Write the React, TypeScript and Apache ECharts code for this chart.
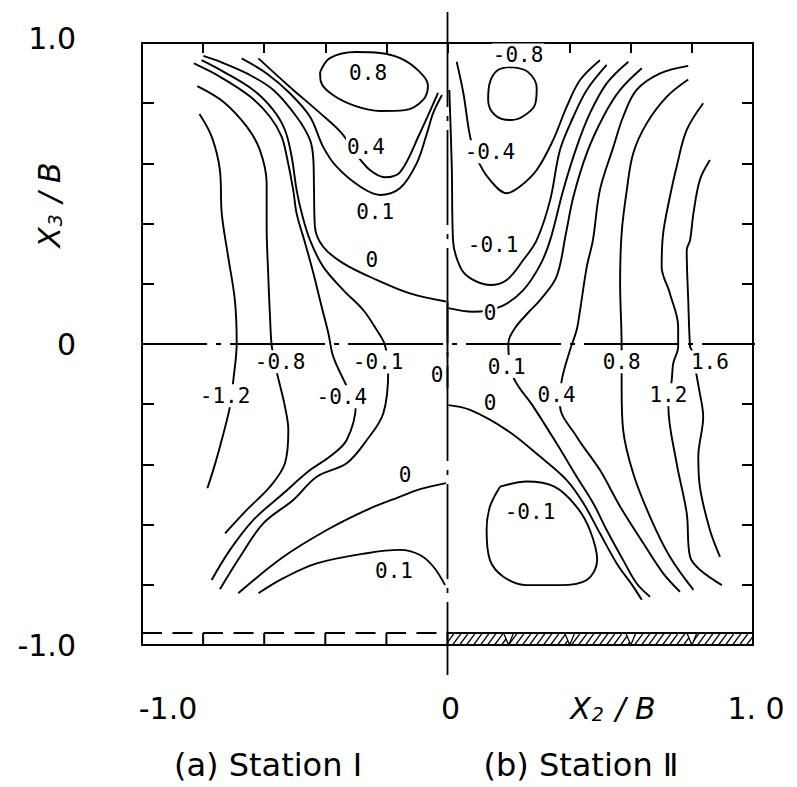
import React, { useEffect, useRef } from "react";
import * as echarts from "echarts";

type Pt = [number, number];

// ---------- Station I (x < 0) contour lines ----------
const s1Minus12: Pt[] = [[-0.812,0.764],[-0.772,0.689],[-0.745,0.578],[-0.739,0.434],[-0.718,0.290],[-0.696,0.146],[-0.690,0.003],[-0.701,-0.120],[-0.712,-0.208],[-0.745,-0.341],[-0.767,-0.419],[-0.786,-0.479]];
const s1Minus08: Pt[] = [[-0.819,0.857],[-0.734,0.805],[-0.657,0.722],[-0.614,0.644],[-0.592,0.534],[-0.592,0.390],[-0.587,0.235],[-0.581,0.091],[-0.575,-0.009],[-0.559,-0.092],[-0.532,-0.208],[-0.521,-0.286],[-0.532,-0.396],[-0.581,-0.474],[-0.657,-0.551],[-0.728,-0.629]];
const s1Minus04: Pt[] = [[-0.830,0.932],[-0.745,0.888],[-0.646,0.822],[-0.581,0.755],[-0.543,0.689],[-0.526,0.622],[-0.505,0.512],[-0.494,0.434],[-0.466,0.335],[-0.439,0.235],[-0.412,0.124],[-0.390,0.036],[-0.374,-0.042],[-0.330,-0.140],[-0.300,-0.200],[-0.330,-0.319],[-0.385,-0.374],[-0.450,-0.419],[-0.537,-0.496],[-0.636,-0.585],[-0.712,-0.684],[-0.772,-0.784]];
const s1Minus01: Pt[] = [[-0.805,0.943],[-0.734,0.905],[-0.636,0.844],[-0.570,0.777],[-0.532,0.711],[-0.510,0.622],[-0.494,0.512],[-0.477,0.434],[-0.450,0.345],[-0.407,0.257],[-0.341,0.179],[-0.276,0.113],[-0.232,0.047],[-0.205,-0.003],[-0.194,-0.086],[-0.210,-0.230],[-0.264,-0.319],[-0.330,-0.396],[-0.428,-0.441],[-0.505,-0.518],[-0.603,-0.596],[-0.679,-0.707],[-0.745,-0.815]];
const s1ZeroUpper: Pt[] = [[-0.799,0.957],[-0.745,0.938],[-0.657,0.899],[-0.570,0.844],[-0.494,0.755],[-0.450,0.678],[-0.439,0.611],[-0.437,0.512],[-0.434,0.390],[-0.407,0.323],[-0.341,0.268],[-0.232,0.213],[-0.123,0.168],[-0.005,0.141]];
const s1Plus01Upper: Pt[] = [[-0.674,0.949],[-0.592,0.899],[-0.516,0.833],[-0.450,0.755],[-0.407,0.655],[-0.363,0.589],[-0.286,0.523],[-0.221,0.495],[-0.155,0.518],[-0.101,0.600],[-0.067,0.701],[-0.047,0.767],[-0.018,0.827]];
const s1Plus04: Pt[] = [[-0.619,0.949],[-0.516,0.854],[-0.417,0.767],[-0.346,0.700],[-0.297,0.628],[-0.254,0.578],[-0.205,0.554],[-0.155,0.571],[-0.090,0.701],[-0.031,0.834]];
const s1Plus08: Pt[] = [[-0.417,0.904],[-0.385,0.950],[-0.300,0.970],[-0.221,0.967],[-0.155,0.950],[-0.097,0.910],[-0.064,0.860],[-0.080,0.811],[-0.139,0.777],[-0.221,0.774],[-0.303,0.791],[-0.375,0.827],[-0.414,0.870],[-0.417,0.904]];
const s1ZeroLower: Pt[] = [[-0.685,-0.828],[-0.537,-0.707],[-0.395,-0.618],[-0.264,-0.551],[-0.155,-0.507],[-0.090,-0.482],[-0.005,-0.462]];
const s1Plus01Lower: Pt[] = [[-0.619,-0.828],[-0.537,-0.778],[-0.428,-0.729],[-0.264,-0.695],[-0.155,-0.684],[-0.090,-0.701],[-0.046,-0.740],[-0.008,-0.801]];

// ---------- Station II (x > 0) contour lines ----------
const s2Minus08: Pt[] = [[0.210,0.920],[0.263,0.904],[0.292,0.850],[0.286,0.794],[0.244,0.754],[0.205,0.744],[0.155,0.761],[0.133,0.811],[0.139,0.870],[0.165,0.910],[0.210,0.920]];
const s2Minus04: Pt[] = [[0.030,0.938],[0.052,0.833],[0.074,0.689],[0.096,0.617],[0.139,0.545],[0.194,0.501],[0.237,0.523],[0.292,0.578],[0.346,0.678],[0.390,0.788],[0.434,0.877],[0.499,0.943]];
const s2Minus01Upper: Pt[] = [[0.006,0.844],[0.014,0.589],[0.018,0.345],[0.041,0.257],[0.074,0.219],[0.139,0.196],[0.194,0.213],[0.248,0.279],[0.292,0.345],[0.336,0.478],[0.368,0.644],[0.412,0.755],[0.456,0.844],[0.521,0.927]];
const s2ZeroUpper: Pt[] = [[0.003,0.119],[0.083,0.107],[0.178,0.126],[0.248,0.179],[0.303,0.262],[0.336,0.345],[0.379,0.512],[0.423,0.655],[0.466,0.766],[0.521,0.866],[0.592,0.938]];
const s2ZeroOnAxis: Pt[] = [[0, 0.14], [0, -0.147]];
const s2Plus01: Pt[] = [[0.636,0.916],[0.565,0.844],[0.510,0.755],[0.456,0.634],[0.412,0.489],[0.388,0.369],[0.357,0.224],[0.303,0.146],[0.263,0.103],[0.221,0.053],[0.199,0.002],[0.215,-0.109],[0.281,-0.208],[0.357,-0.330],[0.423,-0.441],[0.477,-0.529],[0.521,-0.618],[0.575,-0.718],[0.619,-0.795],[0.663,-0.840]];
const s2ZeroLower: Pt[] = [[0.003,-0.203],[0.074,-0.219],[0.194,-0.286],[0.303,-0.374],[0.390,-0.452],[0.445,-0.529],[0.499,-0.629],[0.554,-0.729],[0.608,-0.806],[0.636,-0.850]];
const s2Minus01Loop: Pt[] = [[0.172,-0.474],[0.259,-0.457],[0.350,-0.474],[0.422,-0.540],[0.466,-0.618],[0.490,-0.718],[0.456,-0.784],[0.368,-0.801],[0.259,-0.801],[0.183,-0.773],[0.139,-0.718],[0.128,-0.618],[0.139,-0.540],[0.172,-0.474]];
const s2Plus04: Pt[] = [[0.788,0.924],[0.696,0.899],[0.619,0.844],[0.575,0.755],[0.543,0.655],[0.499,0.512],[0.476,0.345],[0.456,0.257],[0.434,0.113],[0.423,0.047],[0.401,-0.020],[0.374,-0.120],[0.368,-0.203],[0.423,-0.308],[0.499,-0.419],[0.565,-0.540],[0.641,-0.662],[0.706,-0.762],[0.761,-0.823]];
const s2Plus08: Pt[] = [[0.788,0.879],[0.718,0.822],[0.652,0.733],[0.608,0.634],[0.587,0.512],[0.570,0.368],[0.565,0.202],[0.570,-0.009],[0.570,-0.153],[0.575,-0.286],[0.608,-0.430],[0.663,-0.574],[0.728,-0.707],[0.805,-0.817]];
const s2Plus12: Pt[] = [[0.837,0.800],[0.783,0.711],[0.750,0.589],[0.728,0.489],[0.706,0.368],[0.701,0.257],[0.728,0.168],[0.755,0.057],[0.755,-0.009],[0.739,-0.064],[0.734,-0.120],[0.723,-0.208],[0.750,-0.396],[0.783,-0.562],[0.794,-0.707],[0.827,-0.751],[0.898,-0.801]];
const s2Plus16: Pt[] = [[0.859,0.611],[0.826,0.545],[0.805,0.434],[0.794,0.345],[0.783,0.312],[0.788,0.146],[0.794,-0.009],[0.799,-0.020],[0.826,-0.164],[0.837,-0.242],[0.821,-0.374],[0.826,-0.474],[0.859,-0.618],[0.892,-0.707]];

const contourLines: Pt[][] = [
  s1Minus12, s1Minus08, s1Minus04, s1Minus01, s1ZeroUpper, s1Plus01Upper, s1Plus04, s1Plus08, s1ZeroLower, s1Plus01Lower,
  s2Minus08, s2Minus04, s2Minus01Upper, s2ZeroUpper, s2ZeroOnAxis, s2Plus01, s2ZeroLower, s2Minus01Loop, s2Plus04, s2Plus08, s2Plus12, s2Plus16,
];

// contour value labels: [text, x, y]
const contourLabels: [string, number, number][] = [
  ["-1.2", -0.728, -0.172], ["-0.8", -0.548, -0.059], ["-0.4", -0.346, -0.175], ["-0.1", -0.227, -0.060],
  ["0", -0.034, -0.103], ["0.8", -0.260, 0.900], ["0.4", -0.267, 0.654], ["0.1", -0.237, 0.438],
  ["0", -0.248, 0.279], ["0", -0.139, -0.435], ["0.1", -0.175, -0.754],
  ["-0.8", 0.231, 0.960], ["-0.4", 0.139, 0.639], ["-0.1", 0.149, 0.329], ["0", 0.139, 0.103],
  ["0.1", 0.194, -0.075], ["0", 0.139, -0.196], ["0.4", 0.357, -0.169], ["0.8", 0.570, -0.059],
  ["1.2", 0.723, -0.169], ["1.6", 0.859, -0.060], ["-0.1", 0.270, -0.557],
];

// reference (centre) lines
const centreLineH: Pt[] = [[-1.098, 0], [1.105, 0]];
const centreLineV: Pt[] = [[0, 1.103], [0, -1.1]];

// bottom wall strip
const stripTop = -0.96;
const stripBottom = -1.0;
const stripIMarks = [-0.8, -0.6, -0.4, -0.2];
const stripIIMarks = [0.2, 0.4, 0.6, 0.8];
const stripIRange: Pt = [-1, 0];
const stripIIRange: Pt = [0, 1];

const INK = "#000";
const near = (a: number, b: number) => Math.abs(a - b) < 1e-6;

export default function App() {
  const ref = useRef<HTMLDivElement>(null);
  useEffect(() => {
    if (!ref.current) return;
    const chart = echarts.init(ref.current, null, { renderer: "svg" });
    const lineSeries = contourLines.map((d) => ({
      type: "line",
      data: d,
      showSymbol: false,
      symbol: "none",
      smooth: 0.35,
      clip: false,
      silent: true,
      z: 3,
      lineStyle: { color: INK, width: 1.9 },
    }));
    const richText = {
      i: { fontFamily: "DejaVu Sans", fontStyle: "italic", fontSize: 30, fill: INK, color: INK },
      s: { fontFamily: "DejaVu Sans", fontStyle: "italic", fontSize: 19, fill: INK, color: INK, verticalAlign: "bottom", padding: [0, 2, 0, 1] },
    };
    const option: any = {
      animation: false,
      backgroundColor: "#fff",
      grid: { left: 142, top: 43, right: 44, bottom: 142, containLabel: false },
      xAxis: [
        {
          type: "value", position: "bottom", min: -1, max: 1, interval: 1,
          axisLine: { show: true, onZero: false, lineStyle: { color: INK, width: 2 } },
          axisTick: { show: false },
          splitLine: { show: false },
          axisLabel: {
            show: true, margin: 48, fontFamily: "DejaVu Sans", fontSize: 30, color: INK,
            showMinLabel: true, showMaxLabel: true,
            formatter: (v: number) => (near(v, -1) ? "{a|-1.0}" : near(v, 0) ? "{b|0}" : near(v, 1) ? "{c|1. 0}" : ""),
            rich: {
              a: { fontFamily: "DejaVu Sans", fontSize: 30, color: INK, padding: [0, 0, 0, 52] },
              b: { fontFamily: "DejaVu Sans", fontSize: 30, color: INK, padding: [0, 0, 0, 6] },
              c: { fontFamily: "DejaVu Sans", fontSize: 30, color: INK, padding: [0, 0, 0, 6] },
            },
          },
        },
        {
          type: "value", position: "top", min: -1, max: 1, interval: 0.2,
          axisLine: { show: true, onZero: false, lineStyle: { color: INK, width: 2 } },
          axisTick: { show: true, inside: true, length: 10, lineStyle: { color: INK, width: 2 } },
          axisLabel: { show: false },
          splitLine: { show: false },
        },
      ],
      yAxis: [
        {
          type: "value", position: "left", min: -1, max: 1, interval: 0.2,
          axisLine: { show: true, onZero: false, lineStyle: { color: INK, width: 2 } },
          axisTick: { show: true, inside: true, length: 12, lineStyle: { color: INK, width: 2 } },
          splitLine: { show: false },
          axisLabel: {
            show: true, margin: 66, fontFamily: "DejaVu Sans", fontSize: 30, color: INK,
            showMinLabel: true, showMaxLabel: true,
            formatter: (v: number) => (near(v, 1) ? "{t|1.0}" : near(v, 0) ? "0" : near(v, -1) ? "-1.0" : ""),
            rich: { t: { fontFamily: "DejaVu Sans", fontSize: 30, color: INK, padding: [0, 0, 10, 0] } },
          },
        },
        {
          type: "value", position: "right", min: -1, max: 1, interval: 0.2,
          axisLine: { show: true, onZero: false, lineStyle: { color: INK, width: 2 } },
          axisTick: { show: true, inside: true, length: 11, lineStyle: { color: INK, width: 2 } },
          axisLabel: { show: false },
          splitLine: { show: false },
        },
      ],
      series: [
        {
          type: "line", data: centreLineH, showSymbol: false, symbol: "none", clip: false, silent: true, z: 2,
          lineStyle: { color: INK, width: 1.8, type: [95, 9, 5, 9] },
        },
        {
          type: "line", data: centreLineV, showSymbol: false, symbol: "none", clip: false, silent: true, z: 2,
          lineStyle: { color: INK, width: 1.8, type: [95, 9, 5, 9] },
        },
        ...lineSeries,
        {
          type: "line", data: [[stripIRange[0], stripTop], [stripIRange[1], stripTop]],
          showSymbol: false, symbol: "none", clip: false, silent: true, z: 4,
          lineStyle: { color: INK, width: 2, type: [20, 10.5] },
        },
        {
          type: "custom", silent: true, z: 4, clip: false,
          data: stripIMarks.map((m) => [m, stripTop, stripBottom]),
          renderItem: (_p: any, api: any) => {
            const a = api.coord([api.value(0), api.value(1)]);
            const b = api.coord([api.value(0), api.value(2)]);
            return { type: "line", shape: { x1: a[0], y1: a[1], x2: b[0], y2: b[1] }, style: { stroke: INK, lineWidth: 2 } };
          },
        },
        {
          type: "custom", silent: true, z: 4, clip: false,
          data: [[stripIIRange[0], stripTop, stripIIRange[1], stripBottom]],
          renderItem: (_p: any, api: any) => {
            const tl = api.coord([api.value(0), api.value(1)]);
            const br = api.coord([api.value(2), api.value(3)]);
            const left = tl[0], top = tl[1], right = br[0], bottom = br[1];
            const children: any[] = [];
            const h = 9, step = 7;
            for (let xs = left - h; xs < right; xs += step) {
              let x1 = xs, y1 = bottom, x2 = xs + h, y2 = top;
              if (x1 < left) { const t = (left - xs) / h; x1 = left; y1 = bottom + (top - bottom) * t; }
              if (x2 > right) { const t = (right - xs) / h; x2 = right; y2 = bottom + (top - bottom) * t; }
              children.push({ type: "line", shape: { x1, y1, x2, y2 }, style: { stroke: INK, lineWidth: 1.3 } });
            }
            stripIIMarks.forEach((m) => {
              const c = api.coord([m, stripTop]);
              children.push({
                type: "polygon",
                shape: { points: [[c[0] - 5, top], [c[0] + 5, top], [c[0], bottom]] },
                style: { fill: "#fff", stroke: INK, lineWidth: 1.3 },
              });
            });
            children.push({
              type: "rect",
              shape: { x: left, y: top, width: right - left, height: bottom - top },
              style: { fill: "none", stroke: INK, lineWidth: 2 },
            });
            return { type: "group", children };
          },
        },
        {
          type: "custom", silent: true, z: 10, clip: false,
          data: contourLabels.map(([t, x, y]) => ({ name: t, value: [x, y] })),
          renderItem: (params: any, api: any) => {
            const p = api.coord([api.value(0), api.value(1)]);
            const txt = contourLabels[params.dataIndex][0];
            return {
              type: "text",
              x: p[0],
              y: p[1],
              style: {
                text: txt,
                fontFamily: "DejaVu Sans Mono",
                fontSize: 21,
                fill: INK,
                backgroundColor: "#fff",
                padding: [1, 1],
                align: "center",
                verticalAlign: "middle",
                textAlign: "center",
                textVerticalAlign: "middle",
              },
            };
          },
        },
      ],
      graphic: [
        {
          type: "text", x: 49, y: 205, rotation: Math.PI / 2, z: 20,
          style: {
            text: "{i|X}{s|3}{i| / B}", rich: richText,
            align: "center", verticalAlign: "middle", textAlign: "center", textVerticalAlign: "middle",
          },
        },
        {
          type: "text", x: 613, y: 708, z: 20,
          style: {
            text: "{i|X}{s|2}{i| / B}", rich: richText,
            align: "center", verticalAlign: "middle", textAlign: "center", textVerticalAlign: "middle",
          },
        },
        {
          type: "text", x: 268, y: 765, z: 20,
          style: {
            text: "(a) Station \u2160", fontFamily: "DejaVu Sans", fontSize: 32, fill: INK,
            align: "center", verticalAlign: "middle", textAlign: "center", textVerticalAlign: "middle",
          },
        },
        {
          type: "text", x: 581, y: 765, z: 20,
          style: {
            text: "(b) Station \u2161", fontFamily: "DejaVu Sans", fontSize: 32, fill: INK,
            align: "center", verticalAlign: "middle", textAlign: "center", textVerticalAlign: "middle",
          },
        },
      ],
    };
    chart.setOption(option);
    return () => chart.dispose();
  }, []);
  return (
    <div
      ref={ref}
      style={{ position: "fixed", left: 0, top: 0, width: "797px", height: "787px", background: "#fff" }}
    />
  );
}
